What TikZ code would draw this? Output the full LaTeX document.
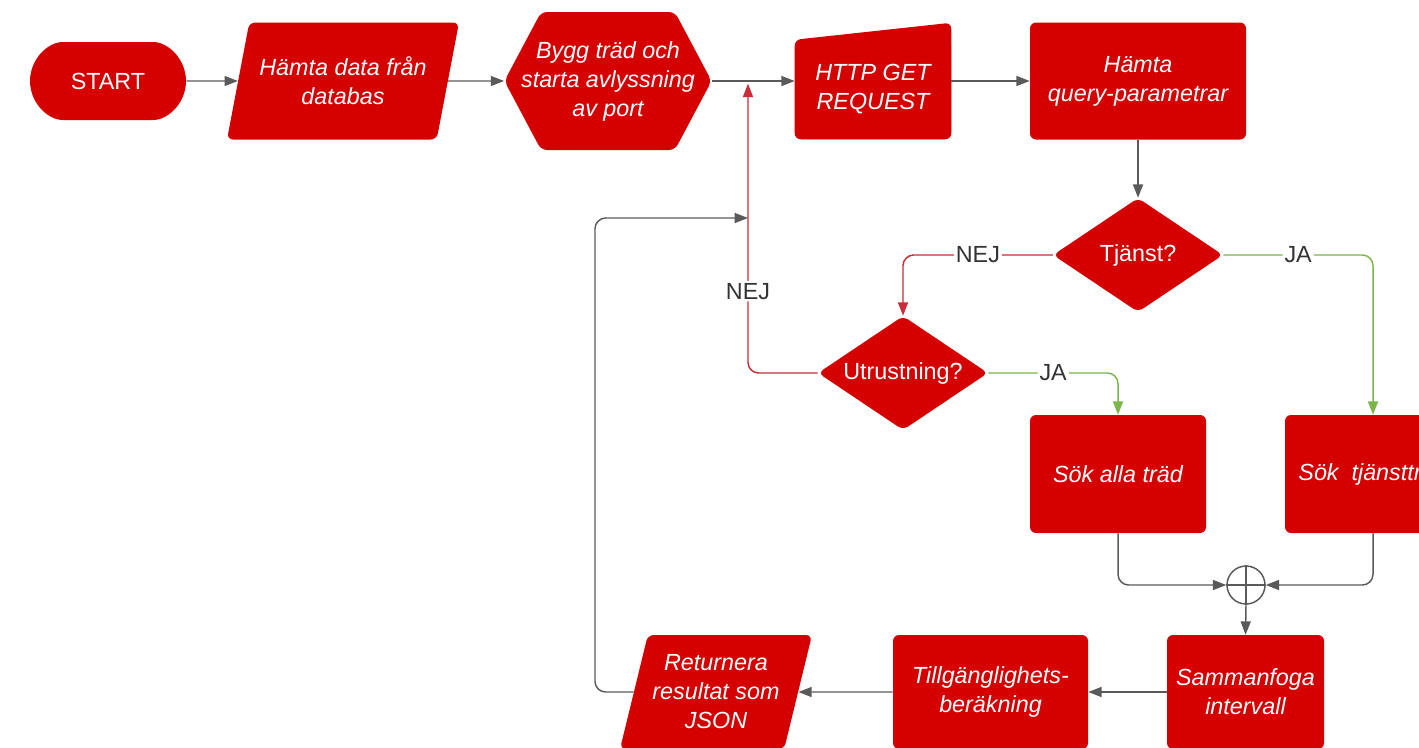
\documentclass[tikz,border=0pt]{standalone}
\usepackage{fontspec}
\setmainfont{Liberation Sans}
\usetikzlibrary{arrows.meta}
\usetikzlibrary{shapes.geometric,shapes.misc,shapes.symbols}
\usetikzlibrary{backgrounds}
\usetikzlibrary{calc}

\definecolor{boxred}{RGB}{213,0,0}
\definecolor{linegray}{RGB}{90,90,90}
\definecolor{nejred}{RGB}{201,45,57}
\definecolor{jagreen}{RGB}{122,182,72}
\definecolor{labelgray}{RGB}{51,51,51}

\begin{document}
\begin{tikzpicture}[x=0.75pt,y=0.75pt,yscale=-1,xscale=1,
  every node/.style={font=\fontsize{17.5}{21.75}\selectfont},
  box/.style={fill=boxred,text=white,align=center,inner sep=0pt,rounded corners=4.5pt,
    font=\fontsize{17.5}{21.75}\selectfont\itshape},
  decision/.style={box,diamond,aspect=1.5,minimum width=127.5pt,minimum height=85.5pt,
    font=\fontsize{17.5}{21.75}\selectfont},
  iobox/.style={box,trapezium,trapezium stretches body,trapezium left angle=#1,trapezium right angle=180-#1},
  flow/.style={draw=linegray,line width=1.1pt,-{Triangle[length=10pt,width=7.5pt]}},
  nejflow/.style={flow,draw=nejred,-{Triangle[length=10pt,width=7.5pt,fill=nejred]},rounded corners=8pt},
  jaflow/.style={flow,draw=jagreen,-{Triangle[length=10pt,width=7.5pt,fill=jagreen]},rounded corners=8pt},
  lbl/.style={fill=white,text=labelgray,inner sep=1.5pt}
]
\useasboundingbox (0,0) rectangle (1419,747);
\clip (0,0) rectangle (1419,747);

%Shape: Terminator
\node[box,rounded rectangle,minimum width=117pt,minimum height=58.5pt,font=\fontsize{17.5}{21.75}\selectfont] (start) at (108,81) {START};
%Shape: Data
\node[iobox=79,inner ysep=25pt,minimum width=174pt,minimum height=87.75pt] (fetch) at (343,81) {Hämta data från\\databas};
%Shape: Hexagon
\node[box,signal,signal to=west and east,signal pointer angle=124,inner xsep=-15pt,minimum height=103.5pt] (hex) at (608,81) {Bygg träd och\\starta avlyssning\\av port};
%Shape: Manual input
\node[box,minimum width=117pt,minimum height=74.25pt] (http) at (873,89.5) {HTTP GET\\REQUEST};
\begin{scope}[on background layer]
\fill[boxred,rounded corners=4.5pt] (http.south west) -- (http.north west) -- ($(http.north east)+(0,-17)$) -- (http.south east) -- cycle;
\end{scope}
%Shape: Rectangle
\node[box,minimum width=162pt,minimum height=87.75pt] (query) at (1138,81) {Hämta\\query-parametrar};

%Shape: Diamond
\node[decision] (tjanst) at (1138,255) {Tjänst?};
%Shape: Diamond
\node[decision] (utr) at (903,373) {Utrustning?};

%Shape: Rectangle
\node[box,minimum width=132pt,minimum height=88.5pt] (alla) at (1118,474) {Sök alla träd};
%Shape: Rectangle
\node[box,minimum width=132pt,minimum height=88.5pt] (tjtree) at (1373,474) {Sök\ \ tjänstträd};

%Shape: Summing junction
\node[circle,draw=linegray,line width=1.1pt,fill=white,minimum size=28.5pt,inner sep=0pt] (join) at (1246,585) {};
\draw[linegray,line width=1.1pt] (join.north) -- (join.south) (join.west) -- (join.east);

%Shape: Rectangle
\node[box,minimum width=117.75pt,minimum height=85.5pt] (merge) at (1245.5,692) {Sammanfoga\\intervall};
%Shape: Rectangle
\node[box,minimum width=146.25pt,minimum height=85.5pt] (avail) at (990.5,692) {Tillgänglighets-\\beräkning};
%Shape: Data
\node[iobox=76,inner ysep=14pt,minimum width=144pt,minimum height=85.5pt] (ret) at (716,692) {Returnera\\resultat som\\JSON};

\coordinate (reentry) at (748,81);
\coordinate (entry) at (748,218);
\coordinate (back) at (595,218);

%Straight Lines
\draw[flow] (start.east) -- (fetch.west);
\draw[flow] (fetch.east) -- (hex.west);
\draw[flow] (hex.east) -- (hex.east -| http.west);
\draw[flow] (query.west -| http.east) -- (query.west);
\draw[flow] (query.south) -- (tjanst.north);

%Curve Lines
\draw[nejflow] (tjanst.west) -| (utr.north) node[lbl,pos=0.25] {NEJ};
\draw[jaflow] (tjanst.east) -| (tjtree.north) node[lbl,pos=0.25] {JA};
\draw[jaflow] (utr.east) -| (alla.north) node[lbl,pos=0.25] {JA};
\draw[nejflow,shorten >=2pt] (utr.west) -| (reentry) node[lbl,pos=0.64] {NEJ};

\draw[flow,rounded corners=8pt] (alla.south) |- (join.west);
\draw[flow,rounded corners=8pt] (tjtree.south) |- (join.east);
\draw[flow] (join.south) -- (merge.north);
\draw[flow] (merge.west) -- (avail.east);
\draw[flow] (avail.west) -- (ret.east);
\draw[flow,rounded corners=8pt] (ret.west) -| (back) -- (entry);

\end{tikzpicture}
\end{document}
